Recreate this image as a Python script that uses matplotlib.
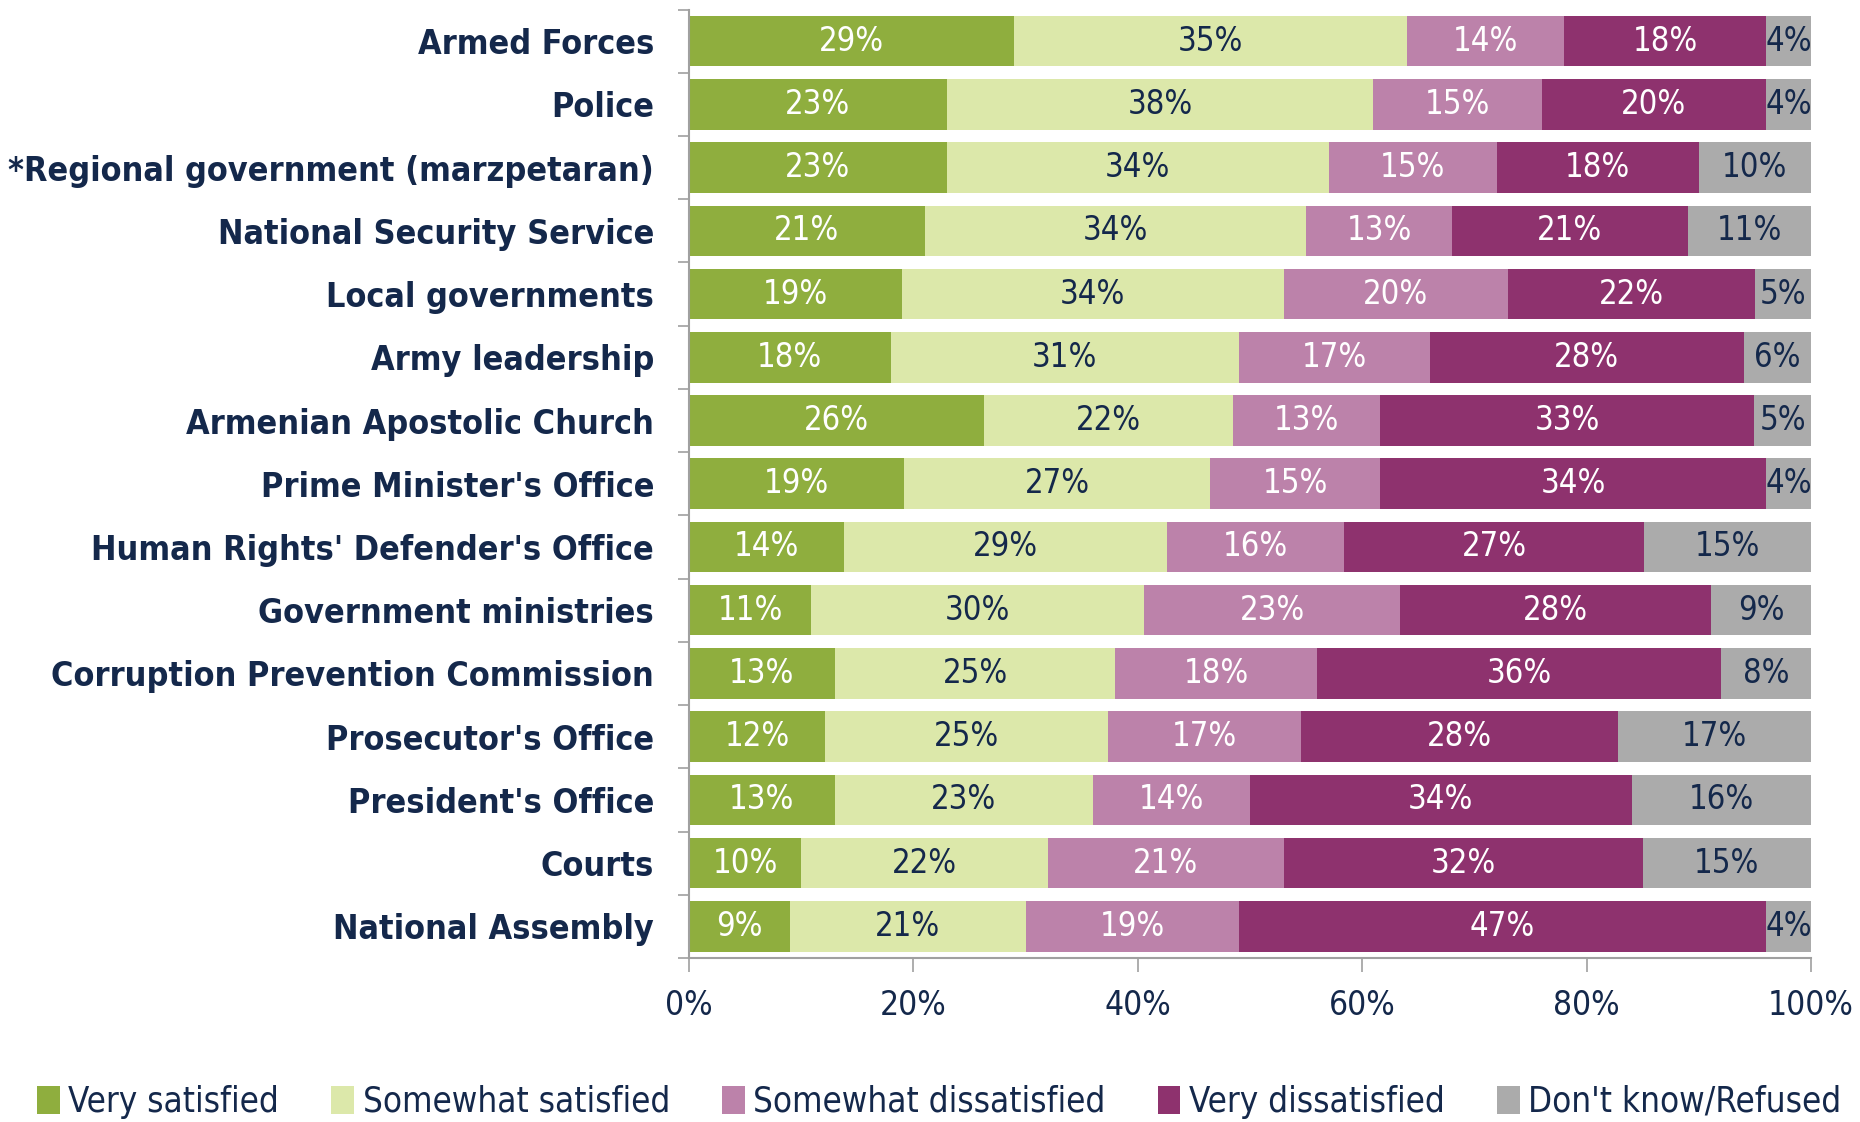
import numpy as np
import matplotlib
matplotlib.use("Agg")
import matplotlib.pyplot as plt
from matplotlib import font_manager

# --- data (percent) ---
categories = [
    "Armed Forces", "Police", "*Regional government (marzpetaran)",
    "National Security Service", "Local governments", "Army leadership",
    "Armenian Apostolic Church", "Prime Minister's Office",
    "Human Rights' Defender's Office", "Government ministries",
    "Corruption Prevention Commission", "Prosecutor's Office",
    "President's Office", "Courts", "National Assembly",
]
very_satisfied = [29, 23, 23, 21, 19, 18, 26, 19, 14, 11, 13, 12, 13, 10, 9]
somewhat_satisfied = [35, 38, 34, 34, 34, 31, 22, 27, 29, 30, 25, 25, 23, 22, 21]
somewhat_dissatisfied = [14, 15, 15, 13, 20, 17, 13, 15, 16, 23, 18, 17, 14, 21, 19]
very_dissatisfied = [18, 20, 18, 21, 22, 28, 33, 34, 27, 28, 36, 28, 34, 32, 47]
dont_know = [4, 4, 10, 11, 5, 6, 5, 4, 15, 9, 8, 17, 16, 15, 4]
series_names = ["Very satisfied", "Somewhat satisfied", "Somewhat dissatisfied",
                "Very dissatisfied", "Don't know/Refused"]

colors = ["#8FAE3E", "#DCE8AA", "#BC82AA", "#8E326E", "#ABABAB"]
text_colors = ["white", "#14284B", "white", "white", "#14284B"]
navy = "#14284B"

# condensed font for numbers if available
names = {f.name for f in font_manager.fontManager.ttflist}
num_font = "Liberation Sans Narrow" if "Liberation Sans Narrow" in names else "DejaVu Sans"
num_stretch = "normal" if num_font == "Liberation Sans Narrow" else "condensed"

data = np.array([very_satisfied, somewhat_satisfied, somewhat_dissatisfied,
                 very_dissatisfied, dont_know], dtype=float)
# bars fill to 100% (labels are rounded)
widths = data / data.sum(axis=0) * 100

fig = plt.figure(figsize=(18.6, 11.22), dpi=100)
ax = fig.add_axes([0.3704, 0.1462, 0.6033, 0.8453])

y = np.arange(len(categories))
left = np.zeros(len(categories))
for i in range(5):
    ax.barh(y, widths[i], left=left, height=0.8, color=colors[i],
            label=series_names[i], edgecolor="none")
    for j in range(len(categories)):
        ax.text(left[j] + widths[i][j] / 2, y[j], f"{int(data[i][j])}%",
                ha="center", va="center", color=text_colors[i],
                fontsize=23.5, family=num_font, stretch=num_stretch)
    left += widths[i]

ax.set_xlim(0, 100)
ax.set_ylim(len(categories) - 0.5, -0.5)

ax.set_yticks(y)
ax.set_yticklabels(categories, fontsize=24.5, fontweight="bold", color=navy,
                   stretch="condensed")
ax.set_yticks(np.arange(-0.5, len(categories)), minor=True)
ax.tick_params(axis="y", which="major", length=0, pad=25)
ax.tick_params(axis="y", which="minor", length=8, color="#A0A0A0", width=1.2)

ax.set_xticks(np.arange(0, 101, 20))
ax.set_xticklabels([f"{v}%" for v in range(0, 101, 20)], fontsize=24,
                   family=num_font, stretch=num_stretch, color=navy)
ax.tick_params(axis="x", length=10, color="#A0A0A0", width=1.2, pad=12)

for s in ["top", "right"]:
    ax.spines[s].set_visible(False)
for s in ["left", "bottom"]:
    ax.spines[s].set_color("#A0A0A0")
    ax.spines[s].set_linewidth(1.5)

leg = fig.legend(loc="center", bbox_to_anchor=(0.505, 0.018), ncol=5, frameon=False,
                 prop={"family": num_font, "stretch": num_stretch, "size": 25},
                 handlelength=0.65, handleheight=0.85, handletextpad=0.25,
                 columnspacing=1.5, labelcolor=navy)

fig.savefig("out.png", dpi=100)
